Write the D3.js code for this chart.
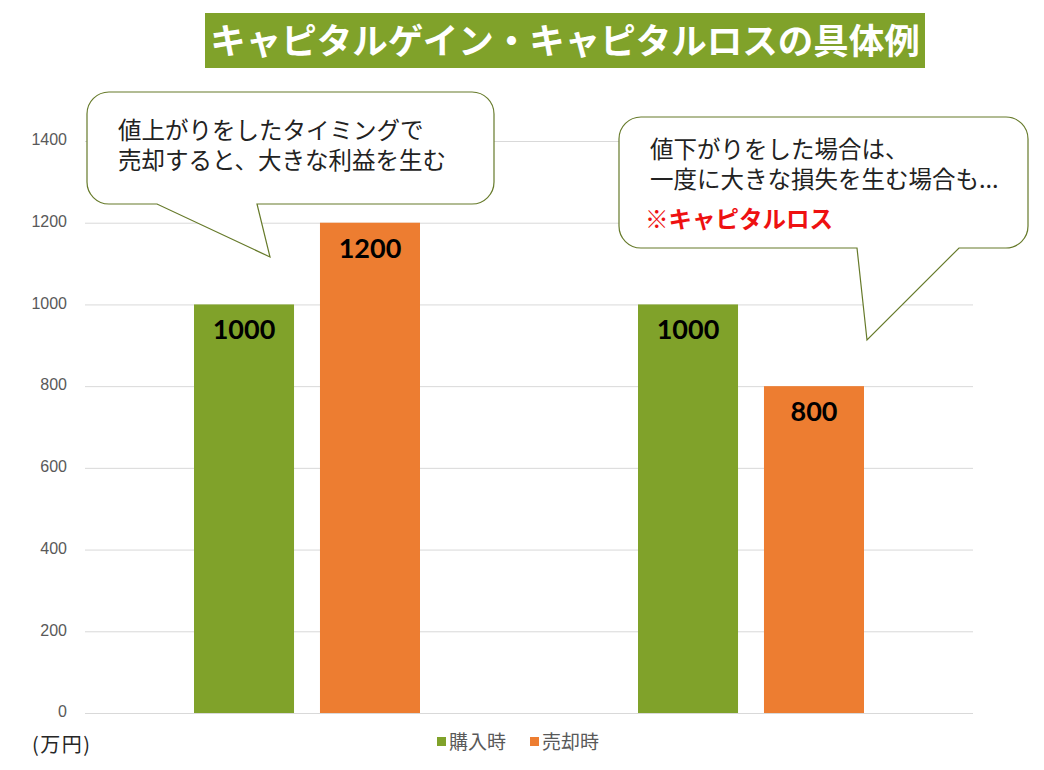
<!DOCTYPE html>
<html>
<head>
<meta charset="utf-8">
<script src="https://cdn.jsdelivr.net/npm/d3@7"></script>
<style>
  html, body { margin: 0; padding: 0; background: #fff; }
  svg { display: block; }
</style>
</head>
<body>
<script>
// chart data
var categories = ["キャピタルゲイン", "キャピタルロス"];
var seriesNames = ["購入時", "売却時"];
var buyValues = [1000, 1000];
var sellValues = [1200, 800];
var yTicks = [0, 200, 400, 600, 800, 1000, 1200, 1400];
var seriesColors = ["#80a22a", "#ed7d31"];

var titleText = "キャピタルゲイン・キャピタルロスの具体例";
var unitText = "(万円)";
var noteGain = ["値上がりをしたタイミングで", "売却すると、大きな利益を生む"];
var noteLoss = ["値下がりをした場合は、", "一度に大きな損失を生む場合も..."];
var noteLossTag = "※キャピタルロス";

var W = 1044, H = 770;
var plot = { left: 85, right: 973, top: 141, bottom: 713 };
var jp = "'Noto Sans CJK JP', 'Noto Sans', sans-serif";

var svg = d3.select("body").append("svg")
    .attr("width", W)
    .attr("height", H);

var y = d3.scaleLinear().domain([0, 1400]).range([plot.bottom, plot.top]);
var x0 = d3.scaleBand().domain(categories)
    .range([plot.left, plot.right])
    .paddingInner(0.491).paddingOuter(0.2455);
var x1 = d3.scaleBand().domain(seriesNames)
    .range([0, x0.bandwidth()])
    .paddingInner(0.206).paddingOuter(0);

// gridlines
svg.append("g").selectAll("line")
    .data(yTicks).join("line")
    .attr("x1", plot.left).attr("x2", plot.right)
    .attr("y1", d => y(d) + 0.5).attr("y2", d => y(d) + 0.5)
    .attr("stroke", "#d9d9d9").attr("stroke-width", 1);

// y tick labels
svg.append("g").selectAll("text")
    .data(yTicks).join("text")
    .attr("x", 67).attr("y", d => y(d))
    .attr("text-anchor", "end")
    .attr("dominant-baseline", "middle")
    .attr("font-family", "'Liberation Sans', sans-serif")
    .attr("font-size", 16)
    .attr("fill", "#595959")
    .text(d => d);

// bars
var rows = [];
categories.forEach(function (c, i) {
    rows.push({ cat: c, series: seriesNames[0], value: buyValues[i], color: seriesColors[0] });
    rows.push({ cat: c, series: seriesNames[1], value: sellValues[i], color: seriesColors[1] });
});

svg.append("g").selectAll("rect")
    .data(rows).join("rect")
    .attr("x", d => x0(d.cat) + x1(d.series))
    .attr("y", d => y(d.value))
    .attr("width", x1.bandwidth())
    .attr("height", d => y(0) - y(d.value))
    .attr("fill", d => d.color);

svg.append("g").selectAll("text")
    .data(rows).join("text")
    .attr("x", d => x0(d.cat) + x1(d.series) + x1.bandwidth() / 2)
    .attr("y", d => y(d.value) + 35)
    .attr("text-anchor", "middle")
    .attr("font-family", "Lato, 'Open Sans', sans-serif")
    .attr("font-weight", "bold")
    .attr("font-size", 27)
    .attr("fill", "#000")
    .text(d => d.value);

// title
svg.append("rect")
    .attr("x", 205).attr("y", 13)
    .attr("width", 720).attr("height", 55)
    .attr("fill", "#80a22a");
svg.append("text")
    .attr("x", 565).attr("y", 54)
    .attr("text-anchor", "middle")
    .attr("font-family", jp)
    .attr("font-weight", "bold")
    .attr("font-size", 35.5)
    .attr("fill", "#fff")
    .text(titleText);

// unit
svg.append("text")
    .attr("x", 32).attr("y", 752)
    .attr("font-family", jp)
    .attr("font-size", 20)
    .attr("letter-spacing", 1.5)
    .attr("fill", "#262626")
    .text(unitText);

// legend
var legend = svg.append("g");
var legendX = [437, 530];
seriesNames.forEach(function (s, i) {
    legend.append("rect")
        .attr("x", legendX[i]).attr("y", 737)
        .attr("width", 9).attr("height", 9)
        .attr("fill", seriesColors[i]);
    legend.append("text")
        .attr("x", legendX[i] + 12).attr("y", 749)
        .attr("font-family", jp)
        .attr("font-size", 19)
        .attr("fill", "#595959")
        .text(s);
});

// speech bubble: rounded box with a tail on the bottom edge
function bubblePath(x, y0, w, h, r, tail) {
    var p = d3.path();
    var x2 = x + w, y2 = y0 + h;
    p.moveTo(x + r, y0);
    p.lineTo(x2 - r, y0);
    p.arcTo(x2, y0, x2, y0 + r, r);
    p.lineTo(x2, y2 - r);
    p.arcTo(x2, y2, x2 - r, y2, r);
    p.lineTo(tail[1], y2);
    p.lineTo(tail[2][0], tail[2][1]);
    p.lineTo(tail[0], y2);
    p.lineTo(x + r, y2);
    p.arcTo(x, y2, x, y2 - r, r);
    p.lineTo(x, y0 + r);
    p.arcTo(x, y0, x + r, y0, r);
    p.closePath();
    return p.toString();
}

function addBubble(box, tail, lines, baseY, tag) {
    svg.append("path")
        .attr("d", bubblePath(box[0], box[1], box[2], box[3], 22, tail))
        .attr("fill", "#fff")
        .attr("stroke", "#667a2a")
        .attr("stroke-width", 1.2);
    var t = svg.append("text")
        .attr("font-family", jp)
        .attr("font-size", 23.5)
        .attr("fill", "#222");
    lines.forEach(function (line, i) {
        t.append("tspan")
            .attr("x", box[0] + 31).attr("y", baseY + i * 30)
            .text(line);
    });
    if (tag) {
        svg.append("text")
            .attr("x", box[0] + 26).attr("y", baseY + lines.length * 30 + 10)
            .attr("font-family", jp)
            .attr("font-weight", "bold")
            .attr("font-size", 23.5)
            .attr("fill", "#ee1111")
            .text(tag);
    }
}

addBubble([87, 92, 407, 112], [157, 257, [270, 257]], noteGain, 139);
addBubble([619, 117, 409, 131], [857, 959, [867, 340]], noteLoss, 158, noteLossTag);
</script>
</body>
</html>
